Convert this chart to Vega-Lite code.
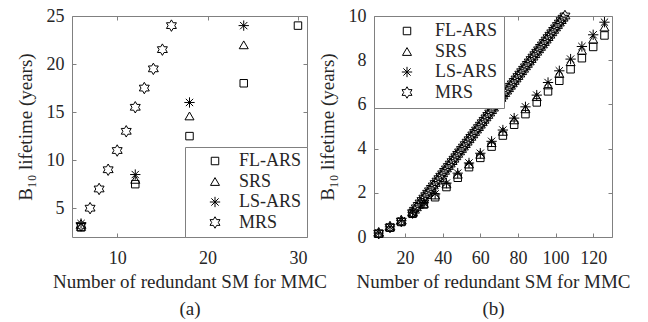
{
  "$schema": "https://vega.github.io/schema/vega-lite/v6.json",
  "background": "white",
  "padding": {"left": 15, "top": 6, "right": 0, "bottom": 0},
  "datasets": {
    "a": [
      {"n": 6, "y": 3.0, "s": "FL-ARS"}, {"n": 12, "y": 7.5, "s": "FL-ARS"}, {"n": 18, "y": 12.5, "s": "FL-ARS"}, {"n": 24, "y": 18, "s": "FL-ARS"}, {"n": 30, "y": 24, "s": "FL-ARS"},
      {"n": 6, "y": 3.1, "s": "SRS"}, {"n": 12, "y": 8.0, "s": "SRS"}, {"n": 18, "y": 14.6, "s": "SRS"}, {"n": 24, "y": 22, "s": "SRS"},
      {"n": 6, "y": 3.4, "s": "LS-ARS"}, {"n": 12, "y": 8.5, "s": "LS-ARS"}, {"n": 18, "y": 16, "s": "LS-ARS"}, {"n": 24, "y": 24, "s": "LS-ARS"},
      {"n": 6, "y": 3.2, "s": "MRS"}, {"n": 7, "y": 5, "s": "MRS"}, {"n": 8, "y": 7, "s": "MRS"}, {"n": 9, "y": 9, "s": "MRS"}, {"n": 10, "y": 11, "s": "MRS"},
      {"n": 11, "y": 13, "s": "MRS"}, {"n": 12, "y": 15.5, "s": "MRS"}, {"n": 13, "y": 17.5, "s": "MRS"}, {"n": 14, "y": 19.5, "s": "MRS"}, {"n": 15, "y": 21.5, "s": "MRS"}, {"n": 16, "y": 24, "s": "MRS"}
    ],
    "b": [
      {"n": 6, "y": 0.15, "s": "FL-ARS"}, {"n": 12, "y": 0.42, "s": "FL-ARS"}, {"n": 18, "y": 0.68, "s": "FL-ARS"}, {"n": 24, "y": 1.05, "s": "FL-ARS"}, {"n": 30, "y": 1.47, "s": "FL-ARS"},
      {"n": 36, "y": 1.80, "s": "FL-ARS"}, {"n": 42, "y": 2.26, "s": "FL-ARS"}, {"n": 48, "y": 2.68, "s": "FL-ARS"}, {"n": 54, "y": 3.16, "s": "FL-ARS"}, {"n": 60, "y": 3.58, "s": "FL-ARS"},
      {"n": 66, "y": 4.09, "s": "FL-ARS"}, {"n": 72, "y": 4.59, "s": "FL-ARS"}, {"n": 78, "y": 5.08, "s": "FL-ARS"}, {"n": 84, "y": 5.56, "s": "FL-ARS"}, {"n": 90, "y": 6.09, "s": "FL-ARS"},
      {"n": 96, "y": 6.59, "s": "FL-ARS"}, {"n": 102, "y": 7.07, "s": "FL-ARS"}, {"n": 108, "y": 7.59, "s": "FL-ARS"}, {"n": 114, "y": 8.09, "s": "FL-ARS"}, {"n": 120, "y": 8.60, "s": "FL-ARS"}, {"n": 126, "y": 9.12, "s": "FL-ARS"},
      {"n": 6, "y": 0.17, "s": "SRS"}, {"n": 12, "y": 0.45, "s": "SRS"}, {"n": 18, "y": 0.72, "s": "SRS"}, {"n": 24, "y": 1.10, "s": "SRS"}, {"n": 30, "y": 1.52, "s": "SRS"},
      {"n": 36, "y": 1.90, "s": "SRS"}, {"n": 42, "y": 2.40, "s": "SRS"}, {"n": 48, "y": 2.84, "s": "SRS"}, {"n": 54, "y": 3.30, "s": "SRS"}, {"n": 60, "y": 3.74, "s": "SRS"},
      {"n": 66, "y": 4.27, "s": "SRS"}, {"n": 72, "y": 4.78, "s": "SRS"}, {"n": 78, "y": 5.30, "s": "SRS"}, {"n": 84, "y": 5.80, "s": "SRS"}, {"n": 90, "y": 6.35, "s": "SRS"},
      {"n": 96, "y": 6.88, "s": "SRS"}, {"n": 102, "y": 7.40, "s": "SRS"}, {"n": 108, "y": 7.93, "s": "SRS"}, {"n": 114, "y": 8.45, "s": "SRS"}, {"n": 120, "y": 8.95, "s": "SRS"}, {"n": 126, "y": 9.50, "s": "SRS"},
      {"n": 6, "y": 0.18, "s": "LS-ARS"}, {"n": 12, "y": 0.46, "s": "LS-ARS"}, {"n": 18, "y": 0.74, "s": "LS-ARS"}, {"n": 24, "y": 1.12, "s": "LS-ARS"}, {"n": 30, "y": 1.55, "s": "LS-ARS"},
      {"n": 36, "y": 1.95, "s": "LS-ARS"}, {"n": 42, "y": 2.44, "s": "LS-ARS"}, {"n": 48, "y": 2.89, "s": "LS-ARS"}, {"n": 54, "y": 3.35, "s": "LS-ARS"}, {"n": 60, "y": 3.79, "s": "LS-ARS"},
      {"n": 66, "y": 4.33, "s": "LS-ARS"}, {"n": 72, "y": 4.84, "s": "LS-ARS"}, {"n": 78, "y": 5.38, "s": "LS-ARS"}, {"n": 84, "y": 5.89, "s": "LS-ARS"}, {"n": 90, "y": 6.42, "s": "LS-ARS"},
      {"n": 96, "y": 6.99, "s": "LS-ARS"}, {"n": 102, "y": 7.52, "s": "LS-ARS"}, {"n": 108, "y": 8.05, "s": "LS-ARS"}, {"n": 114, "y": 8.62, "s": "LS-ARS"}, {"n": 120, "y": 9.15, "s": "LS-ARS"}, {"n": 126, "y": 9.72, "s": "LS-ARS"},
      {"n": 6, "y": 0.17, "s": "MRS"}, {"n": 12, "y": 0.45, "s": "MRS"}, {"n": 18, "y": 0.72, "s": "MRS"},
      {"n": 24, "y": 1.10, "s": "MRS"}, {"n": 25, "y": 1.21, "s": "MRS"}, {"n": 26, "y": 1.32, "s": "MRS"}, {"n": 27, "y": 1.43, "s": "MRS"}, {"n": 28, "y": 1.54, "s": "MRS"},
      {"n": 29, "y": 1.65, "s": "MRS"}, {"n": 30, "y": 1.76, "s": "MRS"}, {"n": 31, "y": 1.87, "s": "MRS"}, {"n": 32, "y": 1.98, "s": "MRS"}, {"n": 33, "y": 2.09, "s": "MRS"},
      {"n": 34, "y": 2.20, "s": "MRS"}, {"n": 35, "y": 2.31, "s": "MRS"}, {"n": 36, "y": 2.42, "s": "MRS"}, {"n": 37, "y": 2.53, "s": "MRS"}, {"n": 38, "y": 2.64, "s": "MRS"},
      {"n": 39, "y": 2.75, "s": "MRS"}, {"n": 40, "y": 2.86, "s": "MRS"}, {"n": 41, "y": 2.97, "s": "MRS"}, {"n": 42, "y": 3.08, "s": "MRS"}, {"n": 43, "y": 3.19, "s": "MRS"},
      {"n": 44, "y": 3.30, "s": "MRS"}, {"n": 45, "y": 3.41, "s": "MRS"}, {"n": 46, "y": 3.52, "s": "MRS"}, {"n": 47, "y": 3.63, "s": "MRS"}, {"n": 48, "y": 3.74, "s": "MRS"},
      {"n": 49, "y": 3.85, "s": "MRS"}, {"n": 50, "y": 3.96, "s": "MRS"}, {"n": 51, "y": 4.07, "s": "MRS"}, {"n": 52, "y": 4.18, "s": "MRS"}, {"n": 53, "y": 4.29, "s": "MRS"},
      {"n": 54, "y": 4.40, "s": "MRS"}, {"n": 55, "y": 4.51, "s": "MRS"}, {"n": 56, "y": 4.62, "s": "MRS"}, {"n": 57, "y": 4.73, "s": "MRS"}, {"n": 58, "y": 4.84, "s": "MRS"},
      {"n": 59, "y": 4.95, "s": "MRS"}, {"n": 60, "y": 5.06, "s": "MRS"}, {"n": 61, "y": 5.17, "s": "MRS"}, {"n": 62, "y": 5.28, "s": "MRS"}, {"n": 63, "y": 5.39, "s": "MRS"},
      {"n": 64, "y": 5.50, "s": "MRS"}, {"n": 65, "y": 5.61, "s": "MRS"}, {"n": 66, "y": 5.72, "s": "MRS"}, {"n": 67, "y": 5.83, "s": "MRS"}, {"n": 68, "y": 5.94, "s": "MRS"},
      {"n": 69, "y": 6.05, "s": "MRS"}, {"n": 70, "y": 6.16, "s": "MRS"}, {"n": 71, "y": 6.27, "s": "MRS"}, {"n": 72, "y": 6.38, "s": "MRS"}, {"n": 73, "y": 6.49, "s": "MRS"},
      {"n": 74, "y": 6.60, "s": "MRS"}, {"n": 75, "y": 6.71, "s": "MRS"}, {"n": 76, "y": 6.82, "s": "MRS"}, {"n": 77, "y": 6.93, "s": "MRS"}, {"n": 78, "y": 7.04, "s": "MRS"},
      {"n": 79, "y": 7.15, "s": "MRS"}, {"n": 80, "y": 7.26, "s": "MRS"}, {"n": 81, "y": 7.37, "s": "MRS"}, {"n": 82, "y": 7.48, "s": "MRS"}, {"n": 83, "y": 7.59, "s": "MRS"},
      {"n": 84, "y": 7.70, "s": "MRS"}, {"n": 85, "y": 7.81, "s": "MRS"}, {"n": 86, "y": 7.92, "s": "MRS"}, {"n": 87, "y": 8.03, "s": "MRS"}, {"n": 88, "y": 8.14, "s": "MRS"},
      {"n": 89, "y": 8.25, "s": "MRS"}, {"n": 90, "y": 8.36, "s": "MRS"}, {"n": 91, "y": 8.47, "s": "MRS"}, {"n": 92, "y": 8.58, "s": "MRS"}, {"n": 93, "y": 8.69, "s": "MRS"},
      {"n": 94, "y": 8.80, "s": "MRS"}, {"n": 95, "y": 8.91, "s": "MRS"}, {"n": 96, "y": 9.02, "s": "MRS"}, {"n": 97, "y": 9.13, "s": "MRS"}, {"n": 98, "y": 9.24, "s": "MRS"},
      {"n": 99, "y": 9.35, "s": "MRS"}, {"n": 100, "y": 9.46, "s": "MRS"}, {"n": 101, "y": 9.57, "s": "MRS"}, {"n": 102, "y": 9.68, "s": "MRS"}, {"n": 103, "y": 9.79, "s": "MRS"},
      {"n": 104, "y": 9.90, "s": "MRS"}, {"n": 105, "y": 10.0, "s": "MRS"}
    ]
  },
  "config": {
    "font": "Liberation Serif",
    "view": {"stroke": "#808080", "strokeWidth": 1},
    "axis": {
      "grid": false, "domain": false,
      "labelFont": "Liberation Serif", "labelFontSize": 18, "labelColor": "#262626",
      "titleFont": "Liberation Serif", "titleFontSize": 19, "titleFontWeight": "normal", "titleColor": "#262626",
      "tickColor": "#808080", "tickSize": -4, "tickWidth": 1
    },
    "axisX": {"labelPadding": 16, "titlePadding": 5, "titleLineHeight": 27},
    "axisY": {"labelPadding": 12, "titlePadding": 11},
    "legend": {
      "title": null, "offset": 0, "padding": 5, "strokeColor": "#808080", "fillColor": "white",
      "labelFont": "Liberation Serif", "labelFontSize": 18, "labelColor": "#262626",
      "symbolStrokeColor": "black", "symbolStrokeWidth": 1, "symbolOffset": 16, "labelOffset": 15, "rowPadding": 2.5
    }
  },
  "spacing": 67,
  "bounds": "flush",
  "hconcat": [
    {
      "width": 235, "height": 221,
      "data": {"name": "a"},
      "layer": [
        {
          "mark": {"type": "point", "filled": false, "opacity": 1, "strokeWidth": 1, "color": "black"},
          "encoding": {
            "x": {"field": "n", "type": "quantitative", "scale": {"domain": [5, 31], "nice": false, "zero": false},
                  "axis": {"orient": "bottom", "values": [10, 20, 30], "title": ["Number of redundant SM for MMC", "(a)"]}},
            "y": {"field": "y", "type": "quantitative", "scale": {"domain": [2, 25], "nice": false, "zero": false},
                  "axis": {"orient": "left", "values": [5, 10, 15, 20, 25], "title": "B₁₀ lifetime (years)"}},
            "shape": {"field": "s", "type": "nominal",
                      "scale": {"domain": ["FL-ARS", "SRS", "LS-ARS", "MRS"],
                                "range": ["square", "triangle-up", "M-1,0L1,0M0,-1L0,1M-0.707,-0.707L0.707,0.707M-0.707,0.707L0.707,-0.707", "M0,-1L0.289,-0.5L0.866,-0.5L0.577,0L0.866,0.5L0.289,0.5L0,1L-0.289,0.5L-0.866,0.5L-0.577,0L-0.866,-0.5L-0.289,-0.5Z"]},
                      "legend": {"orient": "bottom-right"}},
            "size": {"field": "s", "type": "nominal",
                     "scale": {"domain": ["FL-ARS", "SRS", "LS-ARS", "MRS"], "range": [56, 132, 81, 115]},
                     "legend": {"orient": "bottom-right"}}
          }
        },
        {
          "mark": {"type": "point", "opacity": 0},
          "encoding": {
            "x": {"field": "n", "type": "quantitative", "axis": {"orient": "top", "values": [10, 20, 30], "labels": false, "title": null}},
            "y": {"field": "y", "type": "quantitative", "axis": {"orient": "right", "values": [5, 10, 15, 20, 25], "labels": false, "title": null}}
          }
        }
      ],
      "resolve": {"axis": {"x": "independent", "y": "independent"}}
    },
    {
      "width": 238, "height": 221,
      "data": {"name": "b"},
      "layer": [
        {
          "mark": {"type": "point", "filled": false, "opacity": 1, "strokeWidth": 1, "color": "black"},
          "encoding": {
            "x": {"field": "n", "type": "quantitative", "scale": {"domain": [3.5, 130], "nice": false, "zero": false},
                  "axis": {"orient": "bottom", "values": [20, 40, 60, 80, 100, 120], "title": ["Number of redundant SM for MMC", "(b)"]}},
            "y": {"field": "y", "type": "quantitative", "scale": {"domain": [0, 10], "nice": false},
                  "axis": {"orient": "left", "values": [0, 2, 4, 6, 8, 10], "title": "B₁₀ lifetime (years)"}},
            "shape": {"field": "s", "type": "nominal",
                      "scale": {"domain": ["FL-ARS", "SRS", "LS-ARS", "MRS"],
                                "range": ["square", "triangle-up", "M-1,0L1,0M0,-1L0,1M-0.707,-0.707L0.707,0.707M-0.707,0.707L0.707,-0.707", "M0,-1L0.289,-0.5L0.866,-0.5L0.577,0L0.866,0.5L0.289,0.5L0,1L-0.289,0.5L-0.866,0.5L-0.577,0L-0.866,-0.5L-0.289,-0.5Z"]},
                      "legend": {"orient": "top-left", "symbolOffset": 18, "labelOffset": 19, "padding": 6}},
            "size": {"field": "s", "type": "nominal",
                     "scale": {"domain": ["FL-ARS", "SRS", "LS-ARS", "MRS"], "range": [56, 132, 81, 115]},
                     "legend": {"orient": "top-left", "symbolOffset": 18, "labelOffset": 19, "padding": 6}}
          }
        },
        {
          "mark": {"type": "point", "opacity": 0},
          "encoding": {
            "x": {"field": "n", "type": "quantitative", "axis": {"orient": "top", "values": [20, 40, 60, 80, 100, 120], "labels": false, "title": null}},
            "y": {"field": "y", "type": "quantitative", "axis": {"orient": "right", "values": [0, 2, 4, 6, 8, 10], "labels": false, "title": null}}
          }
        }
      ],
      "resolve": {"axis": {"x": "independent", "y": "independent"}}
    }
  ]
}
